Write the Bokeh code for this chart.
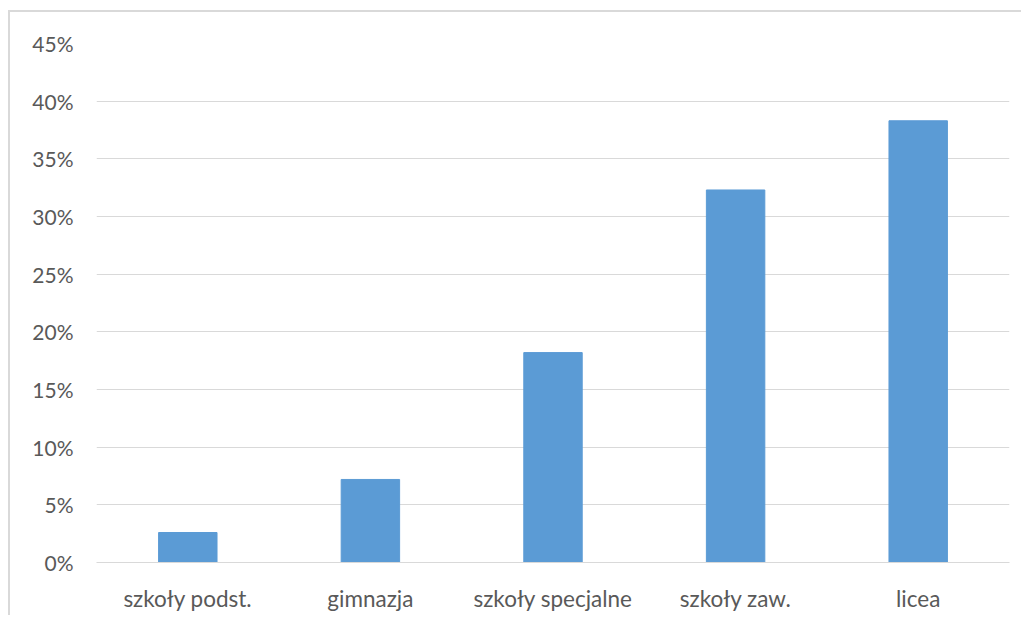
from bokeh.plotting import figure
from bokeh.models import ColumnDataSource, FixedTicker, NumeralTickFormatter, Range1d
from bokeh.embed import file_html
from bokeh.resources import INLINE

categories = ["szkoły podst.", "gimnazja", "szkoły specjalne", "szkoły zaw.", "licea"]
values = [0.026, 0.072, 0.182, 0.323, 0.383]
y_ticks = [0.0, 0.05, 0.10, 0.15, 0.20, 0.25, 0.30, 0.35, 0.40, 0.45]

FONT = "Lato"
TEXT = "#595959"
GRID = "#d9d9d9"
BAR = "#5b9bd5"

src = ColumnDataSource(dict(cat=categories, val=values))

p = figure(
    x_range=categories,
    y_range=Range1d(0, 0.45),
    width=1013, height=605,
    output_backend="svg", toolbar_location=None,
    min_border_left=86, min_border_right=14,
    min_border_top=31, min_border_bottom=55,
)
p.styles = {
    "margin-left": "8px", "margin-top": "10px",
    "border-left": "2px solid #d9d9d9", "border-top": "2px solid #d9d9d9",
}

p.vbar(x="cat", top="val", width=0.32, source=src, fill_color=BAR,
       line_color=BAR, line_width=1)

p.outline_line_color = None
p.xgrid.grid_line_color = None
p.ygrid.grid_line_color = GRID
p.ygrid.grid_line_width = 1

p.yaxis.ticker = FixedTicker(ticks=y_ticks)
p.yaxis.formatter = NumeralTickFormatter(format="0%")
p.yaxis.axis_line_color = None
p.yaxis.major_tick_line_color = None
p.yaxis.minor_tick_line_color = None
p.yaxis.major_tick_out = 0
p.yaxis.major_tick_in = 0
p.yaxis.major_label_standoff = 23
p.yaxis.major_label_text_font = FONT
p.yaxis.major_label_text_font_size = "21px"
p.yaxis.major_label_text_color = TEXT

p.xaxis.axis_line_color = GRID
p.xaxis.major_tick_line_color = None
p.xaxis.minor_tick_line_color = None
p.xaxis.major_tick_out = 0
p.xaxis.major_tick_in = 0
p.xaxis.major_label_standoff = 22
p.xaxis.major_label_text_font = FONT
p.xaxis.major_label_text_font_size = "22.5px"
p.xaxis.major_label_text_color = TEXT
p.x_range.range_padding = 0

open("out.html", "w").write(file_html(p, INLINE))
